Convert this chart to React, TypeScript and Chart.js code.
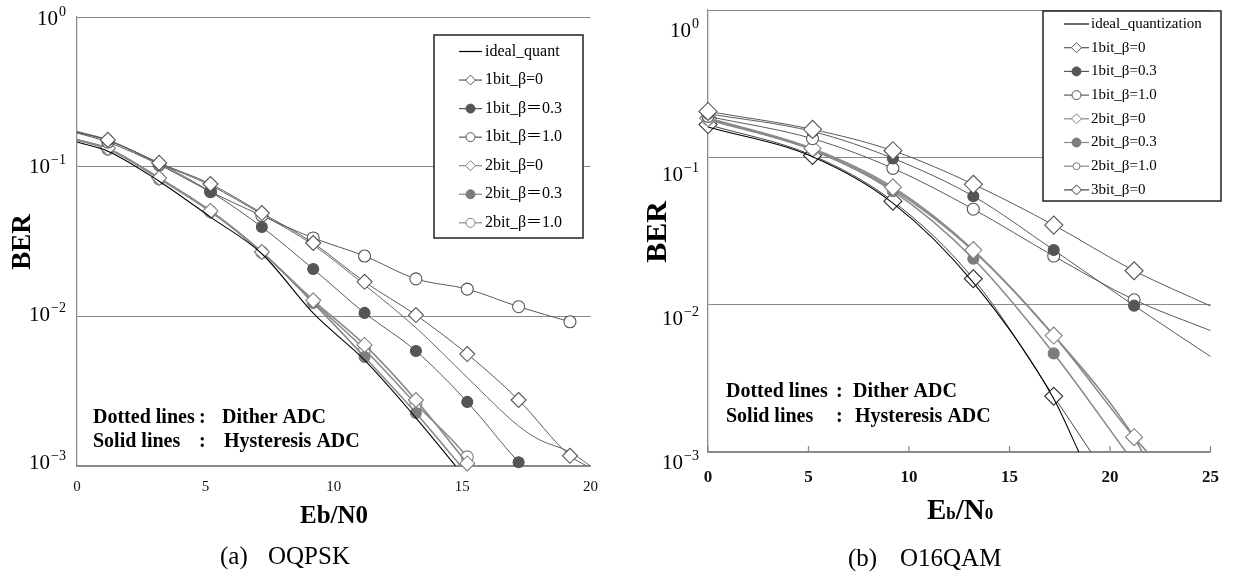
import React, { useEffect, useRef } from 'react';
import { Chart, registerables } from 'chart.js';

Chart.register(...registerables);

const SERIF = '"Liberation Serif", "Times New Roman", "Noto Sans CJK JP", serif';
const AXIS = '#8a8a8a';
const GRID = '#8a8a8a';

// ---------------- shared y axis ----------------
const yTickValues = [1, 0.1, 0.01, 0.001];
const yTickExponents = ['0', '\u22121', '\u22122', '\u22123'];

// ---------------- (a) OQPSK ----------------
const aXTicks = [0, 5, 10, 15, 20];
const aMarkerX = [1.2, 3.2, 5.2, 7.2, 9.2, 11.2, 13.2, 15.2, 17.2, 19.2];
const aLabels = ['ideal_quant', '1bit_β=0', '1bit_β＝0.3', '1bit_β＝1.0', '2bit_β=0', '2bit_β＝0.3', '2bit_β＝1.0'];

const aIdealX = [0, 1.2, 3.2, 5.2, 7.2, 9.2, 11.2, 13.2, 14.75];
const aIdealY = [0.146, 0.127, 0.08, 0.046, 0.0262, 0.0105, 0.0051, 0.0021, 0.001];
const a1b0X = [0, 1.2, 3.2, 5.2, 7.2, 9.2, 11.2, 13.2, 15.2, 17.2, 19.2, 19.85];
const a1b0Y = [0.172, 0.151, 0.106, 0.0766, 0.049, 0.0309, 0.017, 0.0102, 0.0056, 0.00276, 0.00117, 0.001];
const a1b03X = [0, 1.2, 3.2, 5.2, 7.2, 9.2, 11.2, 13.2, 15.2, 17.2, 17.35];
const a1b03Y = [0.17, 0.15, 0.105, 0.068, 0.0395, 0.0207, 0.01054, 0.00587, 0.00268, 0.00106, 0.001];
const a1b10X = [0, 1.2, 3.2, 5.2, 7.2, 9.2, 11.2, 13.2, 15.2, 17.2, 19.2];
const a1b10Y = [0.168, 0.146, 0.103, 0.068, 0.047, 0.0334, 0.0253, 0.0178, 0.0152, 0.0116, 0.0092];
const a2b0X = [0, 1.2, 3.2, 5.2, 7.2, 9.2, 11.2, 13.2, 15.2];
const a2b0Y = [0.151, 0.133, 0.084, 0.0506, 0.0269, 0.0128, 0.00644, 0.00276, 0.00104];
const a2b03X = [0, 1.2, 3.2, 5.2, 7.2, 9.2, 11.2, 13.2, 14.95];
const a2b03Y = [0.151, 0.132, 0.084, 0.0506, 0.0268, 0.0123, 0.00535, 0.00226, 0.001];
const a2b10X = [0, 1.2, 3.2, 5.2, 7.2, 9.2, 11.2, 13.2, 15.2, 15.45];
const a2b10Y = [0.151, 0.131, 0.083, 0.05, 0.0268, 0.0125, 0.006, 0.0026, 0.00115, 0.001];
const aExtraX = [0, 1.2, 3.2, 5.2, 7.2, 9.2, 11.2, 13.2, 15.2, 17.2, 18, 19.2, 20];
const aExtraY = [0.17, 0.15, 0.105, 0.075, 0.048, 0.03, 0.0162, 0.0084, 0.0039, 0.00185, 0.0015, 0.00124, 0.001];

// ---------------- (b) O16QAM ----------------
const bXTicks = [0, 5, 10, 15, 20, 25];
const bMarkerX = [0, 5.2, 9.2, 13.2, 17.2, 21.2];
const bLabels = ['ideal_quantization', '1bit_β=0', '1bit_β=0.3', '1bit_β=1.0', '2bit_β=0', '2bit_β=0.3', '2bit_β=1.0', '3bit_β=0'];

const bIdealX = [0, 5.2, 9.2, 13.2, 17.2, 18.45];
const bIdealY = [0.161, 0.101, 0.0489, 0.0141, 0.0023, 0.001];
const b1bX = [0, 5.2, 9.2, 13.2, 17.2, 21.2, 25];
const b1b0Y = [0.205, 0.155, 0.111, 0.0657, 0.0347, 0.017, 0.0098];
const b1b03Y = [0.198, 0.15, 0.0985, 0.0545, 0.0235, 0.00985, 0.00445];
const b1b10Y = [0.19, 0.134, 0.0843, 0.0445, 0.0214, 0.0108, 0.00667];
const b2b0X = [0, 5.2, 9.2, 13.2, 17.2, 21.2, 21.85];
const b2b0Y = [0.185, 0.115, 0.0627, 0.0235, 0.00617, 0.00126, 0.001];
const b2b03X = [0, 5.2, 9.2, 13.2, 17.2, 20.8];
const b2b03Y = [0.18, 0.112, 0.059, 0.0205, 0.00467, 0.001];
const b2b10X = [0, 5.2, 9.2, 13.2, 17.2, 21.2, 21.6];
const b2b10Y = [0.182, 0.113, 0.0608, 0.0232, 0.0062, 0.00126, 0.001];
const b3b0X = [0, 5.2, 9.2, 13.2, 17.2, 19.05];
const b3b0Y = [0.167, 0.103, 0.0504, 0.015, 0.00239, 0.001];

// ---------------- styles ----------------
type Shape = 'none' | 'diamond' | 'circle';
interface Sty { line: string; width: number; shape: Shape; r: number; fill: string; stroke: string; lr: number }
interface Series { label: string | null; xs: number[]; ys: number[]; sty: Sty }

const S = {
  ideal: { line: '#000', width: 1.1, shape: 'none', r: 0, fill: '#000', stroke: '#000', lr: 0 } as Sty,
  d1: { line: '#5a5a5a', width: 1, shape: 'diamond', r: 7.5, fill: '#fff', stroke: '#555', lr: 5 } as Sty,
  f1: { line: '#5a5a5a', width: 1, shape: 'circle', r: 5.5, fill: '#555', stroke: '#555', lr: 4.5 } as Sty,
  c1: { line: '#5a5a5a', width: 1, shape: 'circle', r: 6, fill: '#fff', stroke: '#555', lr: 4.5 } as Sty,
  d2: { line: '#8a8a8a', width: 1.6, shape: 'diamond', r: 7.5, fill: '#fff', stroke: '#808080', lr: 5 } as Sty,
  f2: { line: '#8a8a8a', width: 1.6, shape: 'circle', r: 5.5, fill: '#7d7d7d', stroke: '#7d7d7d', lr: 4.5 } as Sty,
  c2: { line: '#8a8a8a', width: 1.6, shape: 'circle', r: 6, fill: '#fff', stroke: '#808080', lr: 4.5 } as Sty,
  ex: { line: '#666', width: 1, shape: 'none', r: 0, fill: '#666', stroke: '#666', lr: 0 } as Sty,
  bd1: { line: '#5a5a5a', width: 1, shape: 'diamond', r: 9, fill: '#fff', stroke: '#555', lr: 5 } as Sty,
  bf1: { line: '#5a5a5a', width: 1, shape: 'circle', r: 5.5, fill: '#555', stroke: '#555', lr: 4.5 } as Sty,
  bc1: { line: '#5a5a5a', width: 1, shape: 'circle', r: 6, fill: '#fff', stroke: '#555', lr: 4.5 } as Sty,
  bd2: { line: '#8a8a8a', width: 1.6, shape: 'diamond', r: 8.5, fill: '#fff', stroke: '#808080', lr: 5 } as Sty,
  bf2: { line: '#8a8a8a', width: 1.6, shape: 'circle', r: 5.5, fill: '#7d7d7d', stroke: '#7d7d7d', lr: 4.5 } as Sty,
  bc2: { line: '#8a8a8a', width: 1.6, shape: 'circle', r: 4.5, fill: '#fff', stroke: '#777', lr: 3.5 } as Sty,
  bd3: { line: '#444', width: 1, shape: 'diamond', r: 9, fill: '#fff', stroke: '#333', lr: 5 } as Sty,
};

const aSeries: Series[] = [
  { label: aLabels[0], xs: aIdealX, ys: aIdealY, sty: S.ideal },
  { label: aLabels[1], xs: a1b0X, ys: a1b0Y, sty: S.d1 },
  { label: aLabels[2], xs: a1b03X, ys: a1b03Y, sty: S.f1 },
  { label: aLabels[3], xs: a1b10X, ys: a1b10Y, sty: S.c1 },
  { label: aLabels[4], xs: a2b0X, ys: a2b0Y, sty: S.d2 },
  { label: aLabels[5], xs: a2b03X, ys: a2b03Y, sty: S.f2 },
  { label: aLabels[6], xs: a2b10X, ys: a2b10Y, sty: S.c2 },
  { label: null, xs: aExtraX, ys: aExtraY, sty: S.ex },
];

const bSeries: Series[] = [
  { label: bLabels[0], xs: bIdealX, ys: bIdealY, sty: S.ideal },
  { label: bLabels[1], xs: b1bX, ys: b1b0Y, sty: S.bd1 },
  { label: bLabels[2], xs: b1bX, ys: b1b03Y, sty: S.bf1 },
  { label: bLabels[3], xs: b1bX, ys: b1b10Y, sty: S.bc1 },
  { label: bLabels[4], xs: b2b0X, ys: b2b0Y, sty: S.bd2 },
  { label: bLabels[5], xs: b2b03X, ys: b2b03Y, sty: S.bf2 },
  { label: bLabels[6], xs: b2b10X, ys: b2b10Y, sty: S.bc2 },
  { label: bLabels[7], xs: b3b0X, ys: b3b0Y, sty: S.bd3 },
];

interface PanelCfg {
  left: number; width: number; height: number;
  padTop: number; padRight: number; yAxisW: number; xAxisH: number;
  xMax: number; xTicks: number[]; markerX: number[];
  xTickSize: number; xTickWeight: string; xTickPad: number; innerTicks: boolean;
  series: Series[];
  legend: { x: number; y: number; w: number; h: number; firstY: number; step: number; lineX0: number; lineX1: number; textX: number; fontSize: number };
  yLab: { xRight: number; base: number; exp: number; raise: number; k: number; c: number };
  ber: { x: number; y: number; size: number };
  xTitle: { sub: boolean; x: number; y: number; size: number; subSize: number };
  note: { size: number; x1: number; colon: number; x2a: number; x2b: number; y1: number; y2: number };
  caption: { size: number; xa: number; xb: number; y: number; a: string; b: string };
}

const panelA: PanelCfg = {
  left: 0, width: 610, height: 571,
  padTop: 17, padRight: 17, yAxisW: 77, xAxisH: 105,
  xMax: 20, xTicks: aXTicks, markerX: aMarkerX,
  xTickSize: 15, xTickWeight: 'normal', xTickPad: 12, innerTicks: false,
  series: aSeries,
  legend: { x: 434, y: 35, w: 149, h: 203, firstY: 51.5, step: 28.55, lineX0: 459, lineX1: 482, textX: 485, fontSize: 16 },
  yLab: { xRight: 66, base: 21, exp: 14, raise: 7, k: 0.99, c: 2 },
  ber: { x: 30, y: 242, size: 27 },
  xTitle: { sub: false, x: 334, y: 523, size: 25, subSize: 0 },
  note: { size: 20, x1: 93, colon: 199, x2a: 222, x2b: 224, y1: 423, y2: 447 },
  caption: { size: 25, xa: 220, xb: 268, y: 564, a: '(a)', b: 'OQPSK' },
};

const panelB: PanelCfg = {
  left: 610, width: 624, height: 571,
  padTop: 8, padRight: 18, yAxisW: 98, xAxisH: 119,
  xMax: 25, xTicks: bXTicks, markerX: bMarkerX,
  xTickSize: 17, xTickWeight: 'bold', xTickPad: 15, innerTicks: true,
  series: bSeries,
  legend: { x: 433, y: 11, w: 178, h: 190, firstY: 24, step: 23.7, lineX0: 454, lineX1: 479, textX: 481, fontSize: 15 },
  yLab: { xRight: 89, base: 21, exp: 14, raise: 7, k: 0.9775, c: 21 },
  ber: { x: 56, y: 232, size: 30 },
  xTitle: { sub: true, x: 317, y: 519, size: 29, subSize: 17 },
  note: { size: 20, x1: 116, colon: 226, x2a: 243, x2b: 245, y1: 397, y2: 422 },
  caption: { size: 25, xa: 238, xb: 290, y: 566, a: '(b)', b: 'O16QAM' },
};

function drawMarker(ctx: CanvasRenderingContext2D, shape: Shape, x: number, y: number, r: number, fill: string, stroke: string) {
  if (shape === 'none') return;
  ctx.beginPath();
  if (shape === 'diamond') {
    ctx.moveTo(x, y - r); ctx.lineTo(x + r, y); ctx.lineTo(x, y + r); ctx.lineTo(x - r, y); ctx.closePath();
  } else {
    ctx.arc(x, y, r, 0, Math.PI * 2);
  }
  ctx.fillStyle = fill; ctx.fill();
  ctx.strokeStyle = stroke; ctx.lineWidth = 1; ctx.stroke();
}

function makePlugin(cfg: PanelCfg) {
  return {
    id: 'decor',
    afterDraw(chart: any) {
      const ctx: CanvasRenderingContext2D = chart.ctx;
      const area = chart.chartArea;
      const ys = chart.scales.y;
      const xs = chart.scales.x;
      ctx.save();
      ctx.fillStyle = '#000';

      // inner tick marks
      if (cfg.innerTicks) {
        ctx.strokeStyle = AXIS; ctx.lineWidth = 1.3;
        cfg.xTicks.forEach((v) => {
          const px = xs.getPixelForValue(v);
          ctx.beginPath(); ctx.moveTo(px, area.bottom); ctx.lineTo(px, area.bottom - 6); ctx.stroke();
        });
      }

      // y tick labels 10^n
      ctx.textBaseline = 'middle'; ctx.textAlign = 'left'; ctx.fillStyle = '#000';
      yTickValues.forEach((v, i) => {
        const pix = ys.getPixelForValue(v);
        const yc = area.top + (pix - area.top) * cfg.yLab.k + cfg.yLab.c;
        ctx.font = `${cfg.yLab.exp}px ${SERIF}`;
        const we = ctx.measureText(yTickExponents[i]).width;
        ctx.fillText(yTickExponents[i], cfg.yLab.xRight - we, yc - cfg.yLab.raise);
        ctx.font = `${cfg.yLab.base}px ${SERIF}`;
        const wb = ctx.measureText('10').width;
        ctx.fillText('10', cfg.yLab.xRight - we - 1 - wb, yc);
      });

      // BER
      ctx.save();
      ctx.translate(cfg.ber.x, cfg.ber.y);
      ctx.rotate(-Math.PI / 2);
      ctx.textAlign = 'center'; ctx.textBaseline = 'alphabetic';
      ctx.font = `bold ${cfg.ber.size}px ${SERIF}`;
      ctx.fillText('BER', 0, 0);
      ctx.restore();

      // x title
      ctx.textBaseline = 'alphabetic';
      if (cfg.xTitle.sub) {
        const runs: [string, number][] = [['E', cfg.xTitle.size], ['b', cfg.xTitle.subSize], ['/', cfg.xTitle.size], ['N', cfg.xTitle.size], ['0', cfg.xTitle.subSize]];
        let x = cfg.xTitle.x;
        ctx.textAlign = 'left';
        runs.forEach(([t, sz]) => {
          ctx.font = `bold ${sz}px ${SERIF}`;
          ctx.fillText(t, x, cfg.xTitle.y);
          x += ctx.measureText(t).width;
        });
      } else {
        ctx.textAlign = 'center';
        ctx.font = `bold ${cfg.xTitle.size}px ${SERIF}`;
        ctx.fillText('Eb/N0', cfg.xTitle.x, cfg.xTitle.y);
      }

      // note
      ctx.textAlign = 'left';
      ctx.font = `bold ${cfg.note.size}px ${SERIF}`;
      ctx.fillText('Dotted lines', cfg.note.x1, cfg.note.y1);
      ctx.fillText(':', cfg.note.colon, cfg.note.y1);
      ctx.fillText('Dither ADC', cfg.note.x2a, cfg.note.y1);
      ctx.fillText('Solid lines', cfg.note.x1, cfg.note.y2);
      ctx.fillText(':', cfg.note.colon, cfg.note.y2);
      ctx.fillText('Hysteresis ADC', cfg.note.x2b, cfg.note.y2);

      // caption
      ctx.font = `${cfg.caption.size}px ${SERIF}`;
      ctx.fillText(cfg.caption.a, cfg.caption.xa, cfg.caption.y);
      ctx.fillText(cfg.caption.b, cfg.caption.xb, cfg.caption.y);

      // legend
      const L = cfg.legend;
      ctx.fillStyle = '#fff';
      ctx.fillRect(L.x, L.y, L.w, L.h);
      ctx.strokeStyle = '#222'; ctx.lineWidth = 1.5;
      ctx.strokeRect(L.x, L.y, L.w, L.h);
      const items = cfg.series.filter((s) => s.label !== null);
      items.forEach((s, i) => {
        const y = L.firstY + i * L.step;
        ctx.strokeStyle = s.sty.line; ctx.lineWidth = 1.2;
        ctx.beginPath(); ctx.moveTo(L.lineX0, y); ctx.lineTo(L.lineX1, y); ctx.stroke();
        drawMarker(ctx, s.sty.shape, (L.lineX0 + L.lineX1) / 2, y, s.sty.lr, s.sty.fill, s.sty.stroke);
        ctx.fillStyle = '#000';
        ctx.font = `${L.fontSize}px ${SERIF}`;
        ctx.textAlign = 'left'; ctx.textBaseline = 'middle';
        ctx.fillText(s.label as string, L.textX, y);
      });
      ctx.restore();
    },
  };
}

function Panel({ cfg }: { cfg: PanelCfg }) {
  const ref = useRef<HTMLCanvasElement>(null);
  useEffect(() => {
    const datasets = cfg.series.map((s) => ({
      label: s.label ?? '',
      data: s.xs.map((x, i) => ({ x, y: s.ys[i] })),
      borderColor: s.sty.line,
      borderWidth: s.sty.width,
      cubicInterpolationMode: 'monotone' as const,
      fill: false,
      pointStyle: s.sty.shape === 'diamond' ? 'rectRot' : 'circle',
      pointRadius: (c: any) => (s.sty.shape !== 'none' && c.raw && cfg.markerX.includes(c.raw.x) ? s.sty.r : 0),
      pointBackgroundColor: s.sty.fill,
      pointBorderColor: s.sty.stroke,
      pointBorderWidth: 1.1,
      clip: 12,
    }));
    const chart = new Chart(ref.current as HTMLCanvasElement, {
      type: 'line',
      data: { datasets: datasets as any },
      plugins: [makePlugin(cfg) as any],
      options: {
        animation: false,
        responsive: false,
        devicePixelRatio: 1,
        events: [],
        layout: { padding: { left: 0, top: cfg.padTop, right: cfg.padRight, bottom: 0 } },
        plugins: { legend: { display: false }, tooltip: { enabled: false }, title: { display: false } },
        scales: {
          x: {
            type: 'linear', min: 0, max: cfg.xMax,
            afterBuildTicks: (ax: any) => { ax.ticks = cfg.xTicks.map((v) => ({ value: v })); },
            afterFit: (ax: any) => { ax.height = cfg.xAxisH; },
            grid: { display: true, drawOnChartArea: false, drawTicks: false },
            border: { display: true, color: AXIS, width: 1.3 },
            ticks: {
              color: '#111', padding: cfg.xTickPad, maxRotation: 0, autoSkip: false,
              font: { family: SERIF, size: cfg.xTickSize, weight: cfg.xTickWeight as any },
              callback: (v: any) => String(v),
            },
          },
          y: {
            type: 'logarithmic', min: 0.001, max: 1,
            afterBuildTicks: (ax: any) => { ax.ticks = yTickValues.map((v) => ({ value: v })); },
            afterFit: (ax: any) => { ax.width = cfg.yAxisW; },
            grid: { color: GRID, lineWidth: 1, drawTicks: false },
            border: { display: true, color: AXIS, width: 1.3 },
            ticks: { display: false },
          },
        } as any,
      },
    });
    return () => chart.destroy();
  }, []);
  return (
    <canvas
      ref={ref}
      width={cfg.width}
      height={cfg.height}
      style={{ position: 'absolute', left: cfg.left, top: 0, width: cfg.width, height: cfg.height }}
    />
  );
}

export default function App() {
  return (
    <div style={{ position: 'absolute', left: 0, top: 0, width: 1234, height: 571, background: '#fff', overflow: 'hidden' }}>
      <Panel cfg={panelA} />
      <Panel cfg={panelB} />
    </div>
  );
}
